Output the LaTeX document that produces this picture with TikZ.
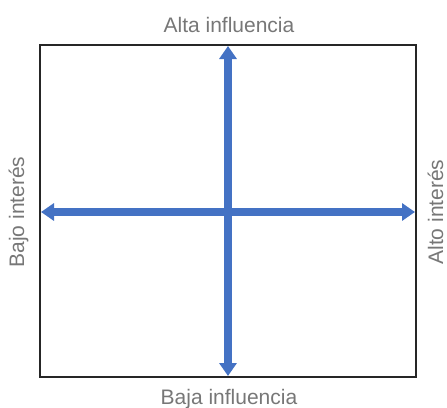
\documentclass[tikz,border=0pt]{standalone}
\usepackage{fontspec}
\setmainfont{Liberation Sans}
\usetikzlibrary{arrows.meta}
\definecolor{arrowblue}{HTML}{4472C4}
\definecolor{labelgray}{HTML}{777777}
\tikzset{
  lbl/.style={text=labelgray, font=\fontsize{21}{25}\selectfont, inner sep=0pt},
  axisarrow/.style={draw=arrowblue, line width=8pt, {Triangle[width=17pt,length=13pt]}-{Triangle[width=17pt,length=13pt]}},
  frame/.style={draw=black!85, line width=1.5pt}
}
\begin{document}
\begin{tikzpicture}[x=1pt,y=-1pt]
\useasboundingbox (0,0) rectangle (447,407);
\draw[frame] (40,45) rectangle (416,377);
\coordinate (top) at (228,46);
\coordinate (bottom) at (228,376);
\coordinate (left) at (41,212);
\coordinate (right) at (415,212);
\draw[axisarrow] (top) -- (bottom);
\draw[axisarrow] (left) -- (right);
\node[lbl, anchor=base] (alta) at (229,32) {Alta influencia};
\node[lbl, anchor=base] (baja) at (229,404) {Baja influencia};
\node[lbl, anchor=base, rotate=90] (bajoint) at (24,212) {Bajo interés};
\node[lbl, anchor=base, rotate=90] (altoint) at (443,212) {Alto interés};
\end{tikzpicture}
\end{document}
